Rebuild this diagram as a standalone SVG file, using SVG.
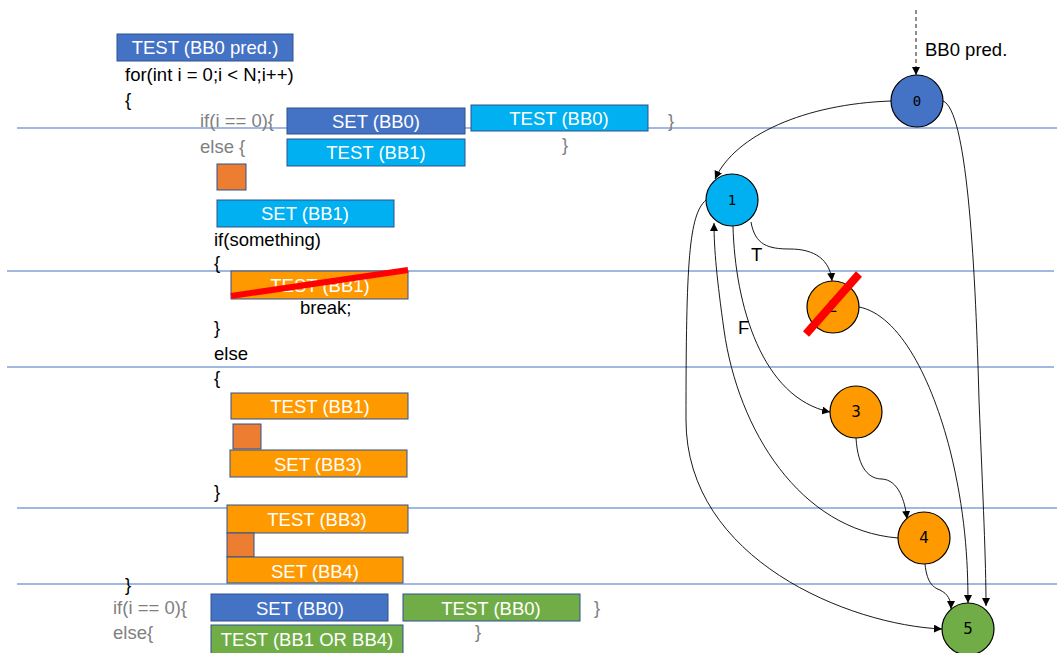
<svg xmlns="http://www.w3.org/2000/svg" width="1057" height="653" viewBox="0 0 1057 653">
  <style>
    .sep { stroke: #4472C4; stroke-width: 1.2; }
    .box { stroke: #2F528F; stroke-width: 1; }
    .blue { fill: #4472C4; }
    .cyan { fill: #00B0F0; }
    .orange { fill: #FF9900; }
    .dorange { fill: #ED7D31; }
    .green { fill: #70AD47; }
    .lbl { font-family: "Liberation Sans", Arial, sans-serif; font-size: 18.5px; fill: #FFFFFF; text-anchor: middle; }
    .code { font-family: "Liberation Sans", Arial, sans-serif; font-size: 18.5px; fill: #000000; }
    .gray { fill: #808080; }
    .node { stroke: #000000; stroke-width: 1.2; }
    .nlbl { font-family: "DejaVu Sans", sans-serif; font-size: 15px; fill: #000000; text-anchor: middle; }
    .mono { font-family: "DejaVu Sans Mono", monospace; font-size: 14px; }
    .edge { fill: none; stroke: #000000; stroke-width: 0.9; marker-end: url(#arrow); }
    .cross { stroke: #FF0000; stroke-linecap: butt; }
  </style>
  <defs>
    <marker id="arrow" viewBox="0 0 10 10" refX="10" refY="5" markerWidth="8" markerHeight="8" markerUnits="userSpaceOnUse" orient="auto">
      <path d="M0,0 L10,5 L0,10 z" fill="#000000"/>
    </marker>
  </defs>

  <!-- horizontal separators -->
  <g id="separators">
    <line class="sep" x1="17" y1="128" x2="1057" y2="128"/>
    <line class="sep" x1="7" y1="271" x2="1054" y2="271"/>
    <line class="sep" x1="7" y1="367" x2="1054" y2="367"/>
    <line class="sep" x1="17" y1="508" x2="1057" y2="508"/>
    <line class="sep" x1="17" y1="584" x2="1057" y2="584"/>
  </g>

  <!-- source code -->
  <g id="code">
    <text class="code" x="125" y="81">for(int i = 0;i &lt; N;i++)</text>
    <text class="code" x="125" y="106">{</text>
    <text class="code gray" x="200" y="127">if(i == 0){</text>
    <text class="code gray" x="668" y="127">}</text>
    <text class="code gray" x="200" y="153">else {</text>
    <text class="code gray" x="562" y="151">}</text>
    <text class="code" x="214" y="246">if(something)</text>
    <text class="code" x="214" y="269">{</text>
    <text class="code" x="300" y="314">break;</text>
    <text class="code" x="214" y="334">}</text>
    <text class="code" x="214" y="360">else</text>
    <text class="code" x="214" y="384">{</text>
    <text class="code" x="214" y="498">}</text>
    <text class="code" x="125" y="591">}</text>
    <text class="code gray" x="113" y="614">if(i == 0){</text>
    <text class="code gray" x="113" y="639">else{</text>
    <text class="code gray" x="594" y="614">}</text>
    <text class="code gray" x="475" y="638">}</text>
  </g>

  <!-- instrumentation blocks -->
  <g id="block-test-bb0-pred">
    <rect class="box blue" x="117" y="34" width="176" height="27"/>
    <text class="lbl" x="205" y="54">TEST (BB0 pred.)</text>
  </g>
  <g id="block-set-bb0-top">
    <rect class="box blue" x="287" y="108" width="178" height="26"/>
    <text class="lbl" x="376" y="128">SET (BB0)</text>
  </g>
  <g id="block-test-bb0-top">
    <rect class="box cyan" x="471" y="105" width="177" height="26"/>
    <text class="lbl" x="559" y="125">TEST (BB0)</text>
  </g>
  <g id="block-test-bb1-top">
    <rect class="box cyan" x="287" y="139" width="178" height="27"/>
    <text class="lbl" x="376" y="159">TEST (BB1)</text>
  </g>
  <g id="block-gap-1">
    <rect class="box dorange" x="217" y="164" width="29" height="26"/>
  </g>
  <g id="block-set-bb1">
    <rect class="box cyan" x="217" y="200" width="177" height="27"/>
    <text class="lbl" x="305" y="220">SET (BB1)</text>
  </g>
  <g id="block-test-bb1-removed">
    <rect class="box orange" x="231" y="271" width="177" height="28"/>
    <text class="lbl" x="320" y="292">TEST (BB1)</text>
    <line class="cross" x1="231" y1="296" x2="408" y2="270" stroke-width="6"/>
  </g>
  <g id="block-test-bb1-else">
    <rect class="box orange" x="231" y="393" width="177" height="26"/>
    <text class="lbl" x="320" y="413">TEST (BB1)</text>
  </g>
  <g id="block-gap-2">
    <rect class="box dorange" x="233" y="424" width="28" height="25"/>
  </g>
  <g id="block-set-bb3">
    <rect class="box orange" x="230" y="450" width="177" height="27"/>
    <text class="lbl" x="318" y="471">SET (BB3)</text>
  </g>
  <g id="block-test-bb3">
    <rect class="box orange" x="227" y="505" width="181" height="28"/>
    <text class="lbl" x="317" y="526">TEST (BB3)</text>
  </g>
  <g id="block-gap-3">
    <rect class="box dorange" x="227" y="533" width="27" height="24"/>
  </g>
  <g id="block-set-bb4">
    <rect class="box orange" x="227" y="557" width="176" height="26"/>
    <text class="lbl" x="315" y="578">SET (BB4)</text>
  </g>
  <g id="block-set-bb0-bottom">
    <rect class="box blue" x="211" y="594" width="177" height="27"/>
    <text class="lbl" x="300" y="615">SET (BB0)</text>
  </g>
  <g id="block-test-bb0-bottom">
    <rect class="box green" x="403" y="594" width="177" height="27"/>
    <text class="lbl" x="491" y="615">TEST (BB0)</text>
  </g>
  <g id="block-test-bb1-or-bb4">
    <rect class="box green" x="211" y="625" width="192" height="30"/>
    <text class="lbl" x="307" y="646">TEST (BB1 OR BB4)</text>
  </g>

  <!-- control-flow graph edges -->
  <g id="edges">
    <line x1="916" y1="10" x2="916" y2="75" stroke="#000000" stroke-width="0.9" stroke-dasharray="4,3" marker-end="url(#arrow)"/>
    <path class="edge" d="M891,101 C805,104 735,135 715,179"/>
    <path class="edge" d="M943,101 C966,110 975,250 979,400 C983,500 986,560 986,606"/>
    <path class="edge" d="M751,222 C755,245 768,249 790,249 C815,249 830,260 832,281"/>
    <path class="edge" d="M733,226 C735,305 762,398 830,412"/>
    <path class="edge" d="M898,538 C800,530 738,430 724,330 C717,280 714,250 714,223"/>
    <path class="edge" d="M706,200 C689,215 686,260 686,420 C686,560 850,625 942,629"/>
    <path class="edge" d="M859,307 C900,315 932,380 950,450 C965,510 968,560 968,603"/>
    <path class="edge" d="M856,438 C858,470 870,479 882,479 C898,480 905,500 907,519"/>
    <path class="edge" d="M925,564 C927,585 935,588 940,590 C948,594 951,600 951,609"/>
    <text class="code" x="925" y="56">BB0 pred.</text>
    <text class="code" x="751" y="261">T</text>
    <text class="code" x="738" y="334">F</text>
  </g>

  <!-- control-flow graph nodes -->
  <g id="node-0">
    <circle class="node blue" cx="917" cy="101" r="26"/>
    <text class="nlbl mono" x="917" y="106">0</text>
  </g>
  <g id="node-1">
    <circle class="node cyan" cx="732" cy="200" r="26"/>
    <text class="nlbl mono" x="732" y="205">1</text>
  </g>
  <g id="node-2">
    <circle class="node orange" cx="833" cy="307" r="26"/>
    <text class="nlbl" x="833" y="312">2</text>
    <line class="cross" x1="806" y1="334" x2="859" y2="274" stroke-width="8"/>
  </g>
  <g id="node-3">
    <circle class="node orange" cx="856" cy="412" r="26"/>
    <text class="nlbl" x="856" y="417">3</text>
  </g>
  <g id="node-4">
    <circle class="node orange" cx="924" cy="538" r="26"/>
    <text class="nlbl" x="924" y="543">4</text>
  </g>
  <g id="node-5">
    <circle class="node green" cx="968" cy="629" r="26"/>
    <text class="nlbl" x="968" y="634">5</text>
  </g>
</svg>
